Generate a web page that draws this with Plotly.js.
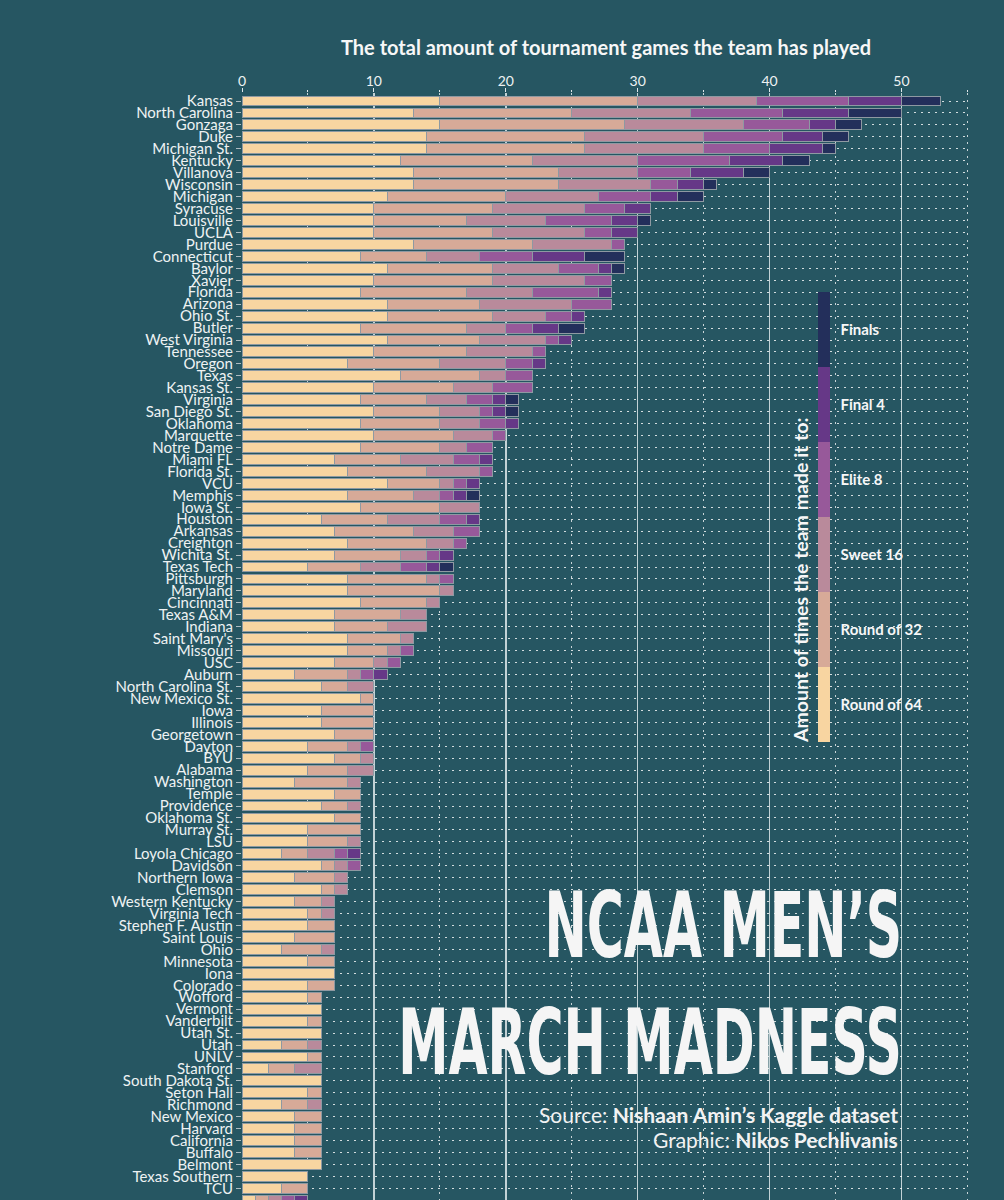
<!DOCTYPE html>
<html>
<head>
<meta charset="utf-8">
<script src="https://cdn.plot.ly/plotly-3.0.1.min.js"></script>
<style>
  html, body { margin: 0; padding: 0; background: #265662; }
  #chart { width: 1004px; height: 1200px; }
</style>
</head>
<body>
<div id="chart"></div>
<script>
const teams = ["Kansas","North Carolina","Gonzaga","Duke","Michigan St.","Kentucky","Villanova","Wisconsin","Michigan","Syracuse",
  "Louisville","UCLA","Purdue","Connecticut","Baylor","Xavier","Florida","Arizona","Ohio St.","Butler",
  "West Virginia","Tennessee","Oregon","Texas","Kansas St.","Virginia","San Diego St.","Oklahoma","Marquette","Notre Dame",
  "Miami FL","Florida St.","VCU","Memphis","Iowa St.","Houston","Arkansas","Creighton","Wichita St.","Texas Tech",
  "Pittsburgh","Maryland","Cincinnati","Texas A&M","Indiana","Saint Mary's","Missouri","USC","Auburn","North Carolina St.",
  "New Mexico St.","Iowa","Illinois","Georgetown","Dayton","BYU","Alabama","Washington","Temple","Providence",
  "Oklahoma St.","Murray St.","LSU","Loyola Chicago","Davidson","Northern Iowa","Clemson","Western Kentucky","Virginia Tech","Stephen F. Austin",
  "Saint Louis","Ohio","Minnesota","Iona","Colorado","Wofford","Vermont","Vanderbilt","Utah St.","Utah",
  "UNLV","Stanford","South Dakota St.","Seton Hall","Richmond","New Mexico","Harvard","California","Buffalo","Belmont",
  "Texas Southern","TCU","South Carolina"];

const round64 = [15,13,15,14,14,12,13,13,11,10, 10,10,13,9,11,10,9,11,11,9, 11,10,8,12,10,9,10,9,10,9,
  7,8,11,8,9,6,7,8,7,5, 8,8,9,7,7,8,8,7,4,6, 9,6,6,7,5,7,5,4,7,6, 7,5,5,3,6,4,6,4,5,5,
  4,3,5,7,5,5,6,5,6,3, 5,2,6,5,3,4,4,4,4,6, 5,3,1];
const round32 = [15,12,14,12,12,10,11,11,9,9, 7,9,9,5,8,9,8,7,8,8, 7,7,7,6,6,5,5,6,6,6,
  5,6,4,5,6,5,6,6,5,4, 6,7,5,5,4,4,3,3,4,2, 1,4,4,3,3,2,3,4,2,2, 2,4,3,2,1,3,1,2,1,2,
  3,3,2,0,2,1,0,1,0,2, 1,2,0,1,2,2,2,2,2,0, 0,2,1];
const sweet16 = [9,9,9,9,9,8,6,7,7,7, 6,7,6,4,5,7,5,7,4,3, 5,5,5,2,3,3,3,3,3,2,
  4,4,1,2,3,4,3,2,2,3, 1,1,1,2,3,1,1,1,1,2, 0,0,0,0,1,1,2,1,0,1, 0,0,1,2,1,1,1,1,1,0,
  0,1,0,0,0,0,0,0,0,1, 0,2,0,0,1,0,0,0,0,0, 0,0,1];
const elite8 = [7,7,5,6,5,7,4,2,4,3, 5,2,1,4,3,2,5,3,2,2, 1,1,2,2,3,2,1,2,1,2,
  2,1,1,1,0,2,2,1,1,2, 1,0,0,0,0,0,1,1,1,0, 0,0,0,0,1,0,0,0,0,0, 0,0,0,1,1,0,0,0,0,0,
  0,0,0,0,0,0,0,0,0,0, 0,0,0,0,0,0,0,0,0,0, 0,0,1];
const final4 = [4,5,2,3,4,4,4,2,2,2, 2,2,0,4,1,0,1,0,1,2, 1,0,1,0,0,1,1,1,0,0,
  1,0,1,1,0,1,0,0,1,1, 0,0,0,0,0,0,0,0,1,0, 0,0,0,0,0,0,0,0,0,0, 0,0,0,1,0,0,0,0,0,0,
  0,0,0,0,0,0,0,0,0,0, 0,0,0,0,0,0,0,0,0,0, 0,0,1];
const finals = [3,4,2,2,1,2,2,1,2,0, 1,0,0,3,1,0,0,0,0,2, 0,0,0,0,0,1,1,0,0,0,
  0,0,0,1,0,0,0,0,0,1, 0,0,0,0,0,0,0,0,0,0, 0,0,0,0,0,0,0,0,0,0, 0,0,0,0,0,0,0,0,0,0,
  0,0,0,0,0,0,0,0,0,0, 0,0,0,0,0,0,0,0,0,0, 0,0,0];

const rounds = ["Round of 64","Round of 32","Sweet 16","Elite 8","Final 4","Finals"];
const roundColors = ["#F8D5A1","#D7AA98","#B98A9B","#97599A","#663887","#232F5B"];
const series = [round64, round32, sweet16, elite8, final4, finals];

const axisTitle = "The total amount of tournament games the team has played";
const legendTitle = "Amount of times the team made it to:";
const titleLines = ["NCAA MEN’S", "MARCH MADNESS"];
const sourceText = "Source: <b>Nishaan Amin’s Kaggle dataset</b>";
const creditText = "Graphic: <b>Nikos Pechlivanis</b>";

const BG = "#265662";
const FONT = "Lato, 'Open Sans', sans-serif";
const TXT = "#eef2f3";
const BIGFONT = "'Liberation Sans Narrow','Arial Narrow','DejaVu Sans Condensed','DejaVu Sans',sans-serif";

const traces = rounds.map((name, i) => ({
  type: "bar",
  orientation: "h",
  name: name,
  y: teams,
  x: series[i].map(v => (v > 0 ? v : null)),
  marker: { color: roundColors[i], line: { color: "#8e99a2", width: 1 } },
  showlegend: false,
  hovertemplate: "%{y}<br>" + name + ": %{x}<extra></extra>"
}));

// discrete colour scale for the legend colour bar
const n = rounds.length;
const stepScale = [];
roundColors.forEach((c, i) => { stepScale.push([i / n, c]); stepScale.push([(i + 1) / n, c]); });

traces.push({
  type: "scatter",
  mode: "markers",
  x: [0], y: [teams[0]],
  hoverinfo: "skip",
  showlegend: false,
  marker: {
    opacity: 0, size: 1,
    color: [0], cmin: 0, cmax: n,
    colorscale: stepScale,
    showscale: true,
    colorbar: {
      x: 0.7912, xanchor: "left", xref: "paper",
      y: 0.617, yanchor: "middle", yref: "paper",
      len: 450, lenmode: "pixels",
      thickness: 12, thicknessmode: "pixels",
      outlinewidth: 0, borderwidth: 0, xpad: 0, ypad: 0,
      tickvals: rounds.map((r, i) => i + 0.5),
      ticktext: rounds,
      ticks: "outside", ticklen: 8, tickcolor: "rgba(0,0,0,0)",
      tickfont: { family: FONT, size: 15, color: "#f7f7f7", weight: "bold" }
    }
  }
});

const layout = {
  width: 1004, height: 1200,
  margin: { l: 242, r: 34, t: 93, b: 0 },
  paper_bgcolor: BG, plot_bgcolor: BG,
  barmode: "stack", bargap: 0.17,
  font: { family: FONT, color: TXT },
  xaxis: {
    side: "top", range: [0, 55.2], tick0: 0, dtick: 10,
    showgrid: true, gridcolor: "rgba(222,232,235,0.85)", gridwidth: 1.5,
    zeroline: false, showline: false,
    ticks: "outside", ticklen: 4, tickcolor: "#dfe7ea",
    ticklabelstandoff: -4,
    tickfont: { family: FONT, size: 14, color: TXT },
    minor: { dtick: 5, showgrid: true, gridcolor: "rgba(255,255,255,0.75)", griddash: "2px,5px", gridwidth: 1,
             ticks: "outside", ticklen: 2, tickcolor: "#dfe7ea" },
    title: { text: axisTitle, standoff: 11, font: { family: FONT, size: 20, color: "#f7f7f7", weight: "bold" } },
    fixedrange: true
  },
  yaxis: {
    type: "category", categoryorder: "array", categoryarray: teams,
    range: [91.97, -0.67],
    tickmode: "linear", tick0: 0, dtick: 1,
    showgrid: true, gridcolor: "rgba(255,255,255,0.8)", griddash: "2px,5px", gridwidth: 1,
    zeroline: false, showline: false,
    ticks: "outside", ticklen: 5, tickcolor: "rgba(190,200,205,0.9)",
    tickfont: { family: FONT, size: 15, color: TXT },
    fixedrange: true
  },
  annotations: [
    { text: legendTitle, textangle: -90, xref: "paper", yref: "paper", x: 0.7665, y: 0.5600,
      xanchor: "center", yanchor: "middle", showarrow: false,
      font: { family: FONT, size: 19.5, color: "#f7f7f7", weight: "bold" } },
    { text: titleLines[0], xref: "paper", yref: "paper", x: 0.9093, y: 0.2484, xanchor: "right", yanchor: "middle",
      showarrow: false, font: { family: BIGFONT, size: 68, color: "#f5f5f5", weight: "bold" } },
    { text: titleLines[1], xref: "paper", yref: "paper", x: 0.9093, y: 0.1427, xanchor: "right", yanchor: "middle",
      showarrow: false, font: { family: BIGFONT, size: 68, color: "#f5f5f5", weight: "bold" } },
    { text: sourceText, xref: "paper", yref: "paper", x: 0.9038, y: 0.0768, xanchor: "right", yanchor: "middle",
      showarrow: false, font: { family: FONT, size: 21, color: "#f2f2f2" } },
    { text: creditText, xref: "paper", yref: "paper", x: 0.9038, y: 0.0551, xanchor: "right", yanchor: "middle",
      showarrow: false, font: { family: FONT, size: 21, color: "#f2f2f2" } }
  ]
};

Plotly.newPlot("chart", traces, layout, { displayModeBar: false, staticPlot: true }).then(gd => {
  // condensed poster look for the headline: squeeze horizontally, stretch vertically
  const els = Array.from(gd.querySelectorAll(".annotation-text")).filter(t => titleLines.includes(t.textContent));
  const longest = els.find(t => t.textContent === titleLines[1]);
  const targetWidth = 504;
  const sx = longest ? Math.min(1, targetWidth / longest.getBBox().width) : 1;
  els.forEach(t => {
    t.style.transformBox = "fill-box";
    t.style.transformOrigin = "right center";
    t.style.transform = "scale(" + sx.toFixed(3) + ",1.33)";
  });
});
</script>
</body>
</html>
